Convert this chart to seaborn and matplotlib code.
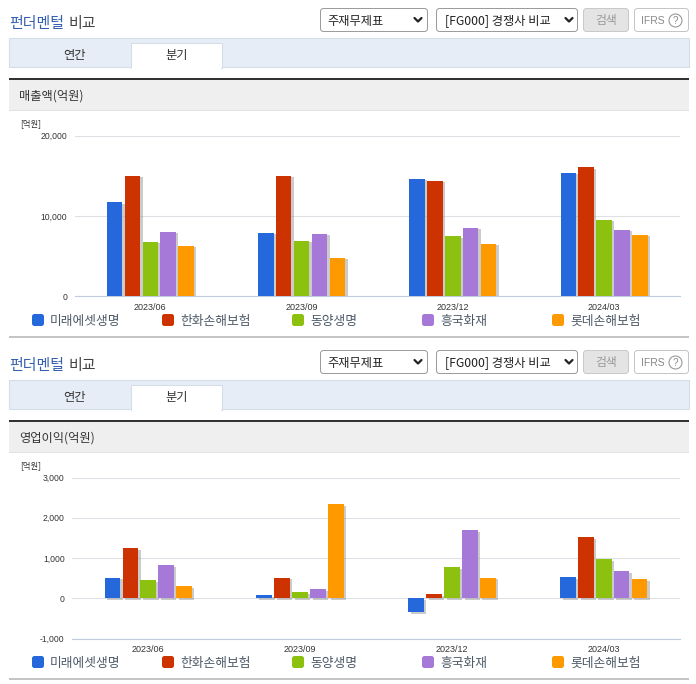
import matplotlib
matplotlib.use('Agg')
import matplotlib.pyplot as plt
import matplotlib.patheffects as pe
from matplotlib.patches import Rectangle, FancyBboxPatch, Circle
import pandas as pd
import seaborn as sns

periods = ['2023/06', '2023/09', '2023/12', '2024/03']
companies = ['미래에셋생명', '한화손해보험', '동양생명', '흥국화재', '롯데손해보험']
colors = ['#2468db', '#cc3300', '#8cc20f', '#a678d8', '#ff9900']

# 매출액
sales_mirae = [11730, 7910, 14630, 15370]
sales_hanwha = [15000, 15000, 14380, 16080]
sales_tongyang = [6800, 6920, 7500, 9530]
sales_heungkuk = [8040, 7790, 8530, 8280]
sales_lotte = [6300, 4800, 6540, 7660]

# 영업이익
profit_mirae = [513, 83, -340, 530]
profit_hanwha = [1250, 513, 108, 1523]
profit_tongyang = [455, 157, 778, 977]
profit_heungkuk = [828, 232, 1697, 679]
profit_lotte = [306, 2343, 513, 480]

KR = ['Noto Sans CJK KR', 'DejaVu Sans']
W, H = 696, 684

sns.set_theme(style='white')
plt.rcParams['font.family'] = KR

fig = plt.figure(figsize=(W / 100, H / 100), dpi=100, facecolor='white')

# page layer in pixel coordinates
page = fig.add_axes([0, 0, 1, 1], zorder=0)
page.set_xlim(0, W)
page.set_ylim(H, 0)
page.axis('off')


def box(x0, y0, x1, y1, fc, ec='none', lw=0.8):
    page.add_patch(Rectangle((x0, y0), x1 - x0, y1 - y0, fc=fc, ec=ec, lw=lw))


def rbox(x0, y0, x1, y1, fc, ec):
    page.add_patch(FancyBboxPatch((x0, y0), x1 - x0, y1 - y0,
                                  boxstyle='round,pad=0,rounding_size=3', fc=fc, ec=ec, lw=0.7))


def label(x, y, s, size=8.5, color='#333333', **kw):
    # y is the baseline, so Korean strings line up with each other
    kw.setdefault('va', 'baseline')
    page.text(x, y, s, fontsize=size, color=color, **kw)


def chevron(x, y):
    page.plot([x - 3.5, x, x + 3.5], [y - 2, y + 1.5, y - 2], color='#222222', lw=1.6)


def draw_panel(dy, heading, bottom_y, ax_box, values, ymin, ymax, yticks):
    # heading and controls
    label(9, 28 + dy, '펀더멘털', 10.8, '#3560b0', fontweight='medium')
    label(69, 28 + dy, '비교', 10.8, '#444444', fontweight='medium')
    rbox(320.5, 8.5 + dy, 427.5, 31.5 + dy, 'white', '#999999')
    label(327, 24.5 + dy, '주재무제표', 8.8, '#222222', fontweight='light')
    chevron(418, 20 + dy)
    rbox(436.5, 8.5 + dy, 577.5, 31.5 + dy, 'white', '#999999')
    label(445, 24.5 + dy, '[FG000] 경쟁사 비교', 8.8, '#222222', fontweight='light')
    chevron(569, 20 + dy)
    rbox(583.5, 8.5 + dy, 628.5, 31.5 + dy, '#e4e4e4', '#c8c8c8')
    label(606, 24 + dy, '검색', 8.5, '#999999', ha='center', fontweight='light')
    rbox(634.5, 8.5 + dy, 688.5, 31.5 + dy, 'white', '#c4c4c4')
    label(641, 23.5 + dy, 'IFRS', 7.5, '#888888', family='Liberation Sans')
    page.add_patch(Circle((675.5, 20.5 + dy), 6.5, fc='white', ec='#999999', lw=0.8))
    label(675.5, 23.5 + dy, '?', 7, '#888888', ha='center', family='Liberation Sans')

    # tabs
    box(9, 38 + dy, 689, 67 + dy, '#e6edf7', '#d5dde8')
    box(131, 43 + dy, 222, 68 + dy, 'white', '#d5dde8')
    box(132, 66 + dy, 221, 69 + dy, 'white')
    label(74, 59 + dy, '연간', 8.8, '#333333', ha='center', fontweight='light')
    label(177, 59 + dy, '분기', 8.8, '#333333', ha='center', fontweight='light')

    # section header
    box(9, 80 + dy, 689, 110 + dy, '#efefef')
    box(9, 78 + dy, 689, 80 + dy, '#333333')
    box(9, 110 + dy, 689, 111 + dy, '#e2e2e2')
    label(19, 100 + dy, heading, 8.8, '#333333', fontweight='light')
    label(20, 126 + dy, '[억원]', 6, '#333333', fontweight='light')
    box(9, bottom_y, 689, bottom_y + 2, '#c4c4c4')

    # legend row
    for i, name in enumerate(companies):
        x = 32 + 130 * i
        page.add_patch(FancyBboxPatch((x, 314 + dy), 12, 12, boxstyle='round,pad=0,rounding_size=2.5',
                                      fc=colors[i], ec='none'))
        label(x + 18, 325 + dy, name, 9.2, '#4d5a68', fontweight='light')

    # the chart itself
    df = pd.DataFrame(values, index=periods, columns=companies)
    df = df.rename_axis('period').reset_index().melt('period', var_name='company', value_name='value')
    x0, y0, x1, y1 = ax_box
    ax = fig.add_axes([x0 / W, 1 - y1 / H, (x1 - x0) / W, (y1 - y0) / H], zorder=2)
    ax.patch.set_alpha(0)
    sns.barplot(data=df, x='period', y='value', hue='company', palette=colors, saturation=1,
                width=0.59, gap=0.13, legend=False, ax=ax, zorder=3, linewidth=0)
    for bar in ax.patches:
        bar.set_path_effects([
            pe.SimplePatchShadow(offset=(1.8, -1.2), shadow_rgbFace='#999999', alpha=0.5),
            pe.Normal(),
        ])

    ax.set_xlim(-0.5, 3.5)
    ax.set_ylim(ymin, ymax)
    ax.set_yticks(yticks)
    ax.set_yticklabels([f'{v:,}' for v in yticks], fontsize=6.2, color='#333333',
                       family='Liberation Sans')
    ax.set_xticks(range(len(periods)))
    ax.set_xticklabels(periods, fontsize=6.5, color='#333333', family='Liberation Sans')
    ax.set_xticks([i - 0.5 for i in range(len(periods) + 1)], minor=True)
    ax.tick_params(axis='x', which='major', length=0, pad=4.5)
    ax.tick_params(axis='x', which='minor', length=4, width=0.7, color='#c0cbdb')
    ax.tick_params(axis='y', length=0, pad=5.5)
    ax.set_xlabel('')
    ax.set_ylabel('')
    ax.grid(axis='y', color='#dde0e5', lw=0.8)
    ax.set_axisbelow(True)
    for side in ['top', 'left', 'right']:
        ax.spines[side].set_visible(False)
    ax.spines['bottom'].set_color('#c0cbdb')
    ax.spines['bottom'].set_linewidth(0.8)


draw_panel(0, '매출액(억원)', 336,
           (74.7, 135.5, 679.7, 296.3),
           list(zip(sales_mirae, sales_hanwha, sales_tongyang, sales_heungkuk, sales_lotte)),
           0, 20000, [0, 10000, 20000])
draw_panel(342, '영업이익(억원)', 678,
           (72.3, 477.5, 679.7, 638.5),
           list(zip(profit_mirae, profit_hanwha, profit_tongyang, profit_heungkuk, profit_lotte)),
           -1000, 3000, [-1000, 0, 1000, 2000, 3000])

fig.savefig('out.png', dpi=100)
